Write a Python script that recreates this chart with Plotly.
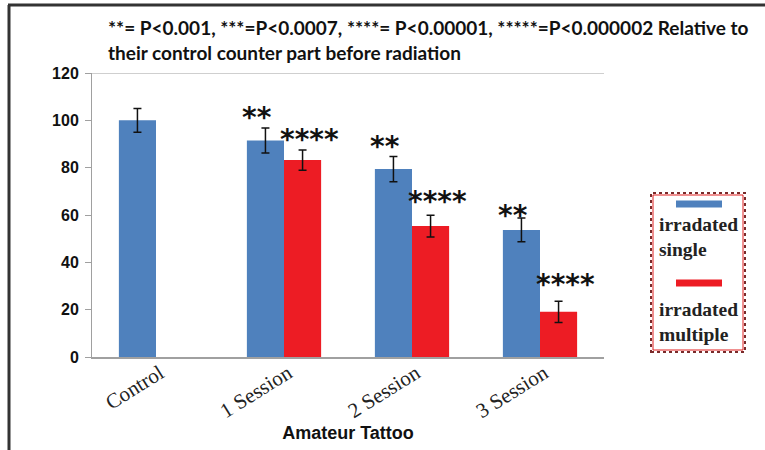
import plotly.graph_objects as go

categories = ["Control", "1 Session", "2 Session", "3 Session"]
single_vals = [100, 91.5, 79.4, 53.7]
single_err = [5.0, 5.3, 5.3, 5.0]
multiple_vals = [None, 83.2, 55.3, 19.1]
multiple_err = [None, 4.3, 4.6, 4.5]
single_stars = [None, "**", "**", "**"]
multiple_stars = [None, "****", "****", "****"]
star_y_single = [None, 101, 88.8, 60]
star_y_multiple = [None, 91.7, 65.6, 30.8]
y_ticks = [0, 20, 40, 60, 80, 100, 120]
legend_names = ["irradated<br>single", "irradated<br>multiple"]
title_line1 = "**= P<0.001, ***=P<0.0007, ****= P<0.00001, *****=P<0.000002 Relative to"
title_line2 = "their control counter part before radiation"

BLUE = "#4F81BD"
RED = "#ED1C24"

W, H = 765, 450
L, R, T, B = 92, 161, 73, 93
PW, PH = W - L - R, H - T - B


def px_x(p):
    return (p - L) / PW


def px_y(p):
    return (H - B - p) / PH


fig = go.Figure()
fig.add_trace(go.Bar(
    x=categories, y=single_vals, name="irradated single",
    marker=dict(color=BLUE, line=dict(width=0)),
    error_y=dict(type="data", array=single_err, color="#111111", thickness=1.5, width=4),
    offsetgroup="s",
))
fig.add_trace(go.Bar(
    x=categories, y=multiple_vals, name="irradated multiple",
    marker=dict(color=RED, line=dict(width=0)),
    error_y=dict(type="data", array=multiple_err, color="#111111", thickness=1.5, width=4),
    offsetgroup="m",
))

star_font = dict(family="DejaVu Sans", size=28, color="#111111", weight="bold")
annotations = []
for i, c in enumerate(categories):
    if single_stars[i]:
        annotations.append(dict(x=c, y=star_y_single[i], xref="x", yref="y", text=single_stars[i],
                                showarrow=False, xshift=-27, yanchor="middle", xanchor="center",
                                font=star_font))
    if multiple_stars[i]:
        annotations.append(dict(x=c, y=star_y_multiple[i], xref="x", yref="y", text=multiple_stars[i],
                                showarrow=False, xshift=25, yanchor="middle", xanchor="center",
                                font=star_font))

# title (two lines)
title_font = dict(family="Lato", size=19, color="#111111", weight="bold")
annotations.append(dict(x=px_x(106), y=px_y(27), xref="paper", yref="paper", text=title_line1,
                        showarrow=False, xanchor="left", yanchor="middle", align="left", font=title_font))
annotations.append(dict(x=px_x(106), y=px_y(52), xref="paper", yref="paper", text=title_line2,
                        showarrow=False, xanchor="left", yanchor="middle", align="left", font=title_font))

# legend (drawn manually: symbol above text)
legend_font = dict(family="Liberation Serif", size=19.5, color="#222222", weight="bold")
annotations.append(dict(x=px_x(657), y=px_y(237), xref="paper", yref="paper", text=legend_names[0],
                        showarrow=False, xanchor="left", yanchor="middle", align="left", font=legend_font))
annotations.append(dict(x=px_x(657), y=px_y(322), xref="paper", yref="paper", text=legend_names[1],
                        showarrow=False, xanchor="left", yanchor="middle", align="left", font=legend_font))

shapes = [
    # top line of plot area at 120
    dict(type="line", xref="paper", yref="y", x0=0, x1=1, y0=120, y1=120, line=dict(color="#A0A0A0", width=1)),
    # legend box
    dict(type="rect", xref="paper", yref="paper", x0=px_x(651), x1=px_x(745), y0=px_y(352), y1=px_y(193),
         line=dict(color="#7a2a2a", width=2, dash="dot")),
    dict(type="rect", xref="paper", yref="paper", x0=px_x(653), x1=px_x(743), y0=px_y(350), y1=px_y(195),
         line=dict(color="#E02020", width=1)),
    dict(type="line", xref="paper", yref="paper", x0=px_x(676), x1=px_x(722), y0=px_y(204), y1=px_y(204),
         line=dict(color=BLUE, width=7)),
    dict(type="line", xref="paper", yref="paper", x0=px_x(676), x1=px_x(722), y0=px_y(283), y1=px_y(283),
         line=dict(color=RED, width=7)),
    # outer frame
    dict(type="line", xref="paper", yref="paper", x0=px_x(8), x1=px_x(765), y0=px_y(5), y1=px_y(5),
         line=dict(color="#333333", width=3)),
    dict(type="line", xref="paper", yref="paper", x0=px_x(9), x1=px_x(9), y0=px_y(5), y1=px_y(452),
         line=dict(color="#333333", width=3)),
]

fig.update_layout(
    width=W, height=H,
    margin=dict(l=L, r=R, t=T, b=B),
    paper_bgcolor="white", plot_bgcolor="white",
    barmode="group", bargap=0.42, bargroupgap=0,
    showlegend=False,
    annotations=annotations,
    shapes=shapes,
    xaxis=dict(
        categoryorder="array", categoryarray=categories,
        showline=True, linecolor="#A0A0A0", linewidth=1.5,
        ticks="", tickangle=-32, automargin=False,
        ticklabelstandoff=-6, ticklabelshift=4,
        tickfont=dict(family="Liberation Serif", size=21, color="#222222"),
        title=dict(text="Amateur Tattoo", standoff=0,
                   font=dict(family="Liberation Sans", size=18, color="#111111", weight="bold")),
        showgrid=False,
    ),
    yaxis=dict(
        range=[0, 120], tickvals=y_ticks, automargin=False,
        showline=True, linecolor="#A0A0A0", linewidth=1,
        ticks="outside", ticklen=6, tickcolor="#A0A0A0",
        ticklabelstandoff=3,
        tickfont=dict(family="Liberation Sans", size=16, color="#111111", weight="bold"),
        showgrid=False, zeroline=False,
    ),
)

fig.write_html("out.html", config={"displayModeBar": False})
with open("out.html", "r", encoding="utf-8") as f:
    html = f.read()
html = html.replace("<head>", "<head><style>html,body{margin:0;padding:0;overflow:hidden;}</style>", 1)
with open("out.html", "w", encoding="utf-8") as f:
    f.write(html)
